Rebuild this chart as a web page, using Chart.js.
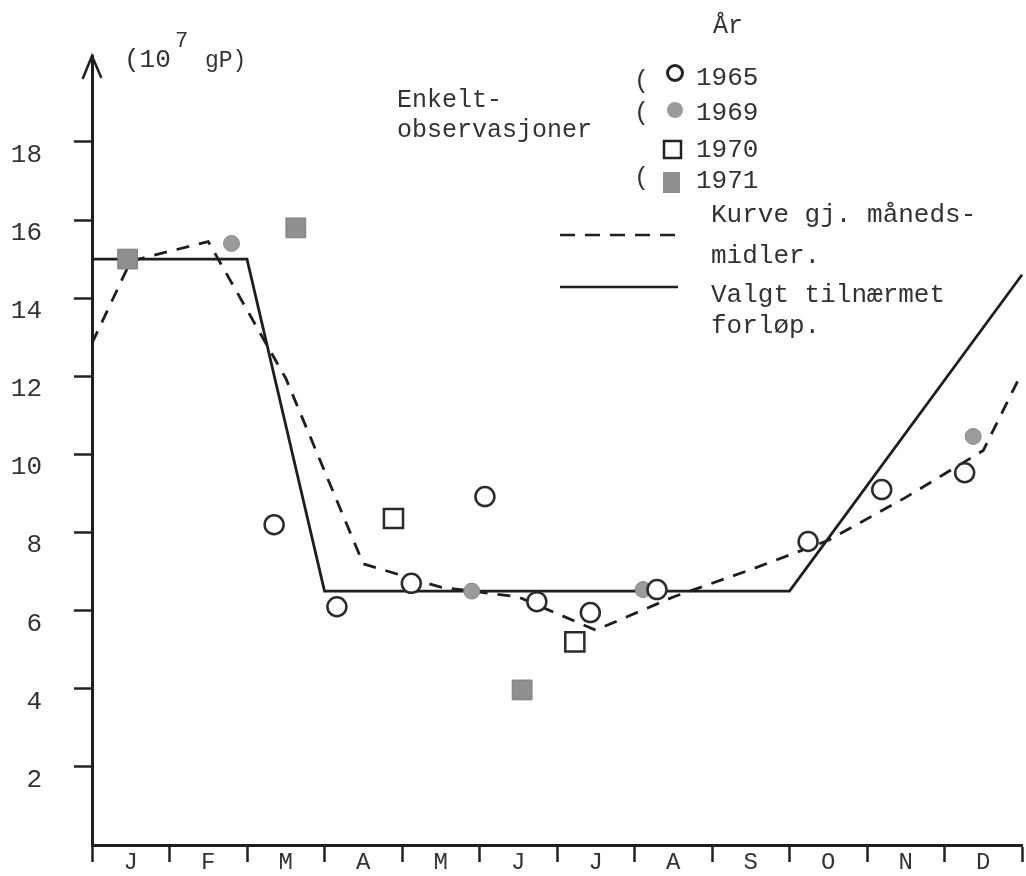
<!DOCTYPE html>
<html>
<head>
<meta charset="utf-8">
<script src="https://cdn.jsdelivr.net/npm/chart.js@4.4.1/dist/chart.umd.min.js"></script>
<style>
html,body{margin:0;padding:0;background:#fff;overflow:hidden;}
#wrap{width:1026px;height:876px;position:relative;}
canvas{display:block;}
</style>
</head>
<body>
<div id="wrap"><canvas id="c" width="1026" height="876" style="width:1026px;height:876px"></canvas></div>
<script>
// ---- data ----
const months = ['J','F','M','A','M','J','J','A','S','O','N','D'];
const yTickValues = [2,4,6,8,10,12,14,16,18];

// single observations, x = position in months (0 = 1 Jan, 12 = 31 Dec)
const x1965 = [2.35, 3.16, 4.12, 5.07, 5.74, 6.43, 7.29, 9.24, 10.19, 11.26];
const y1965 = [8.2, 6.1, 6.7, 8.92, 6.23, 5.95, 6.54, 7.77, 9.1, 9.53];
const x1969 = [1.8, 4.9, 7.11, 11.37];
const y1969 = [15.4, 6.5, 6.54, 10.46];
const x1970 = [3.89, 6.23];
const y1970 = [8.36, 5.2];
const x1971 = [0.46, 2.63, 5.55];
const y1971 = [15.0, 15.8, 3.97];

// curve through monthly means (dashed)
const meanX = [0, 0.5, 1.5, 2.5, 3.5, 4.5, 5.5, 6.5, 7.5, 8.5, 9.5, 10.5, 11.5, 12];
const meanY = [12.85, 14.95, 15.45, 11.95, 7.2, 6.6, 6.35, 5.5, 6.35, 7.05, 7.8, 8.9, 10.1, 12.1];

// chosen approximate course (solid)
const fitX = [0, 2, 3, 9, 12];
const fitY = [15, 15, 6.5, 6.5, 14.6];

const yearLabels = ['1965','1969','1970','1971'];

// ---- helpers ----
const FONT = "'Liberation Mono','DejaVu Sans Mono',monospace";
const INK = '#1e1e1e';
const TXT = '#333';
const pts = (xs, ys) => xs.map((x, i) => ({x: x, y: ys[i]}));
const noPad = s => { s.paddingTop = 0; s.paddingBottom = 0; s.paddingLeft = 0; s.paddingRight = 0; };

const decor = {
  id: 'decor',
  afterDraw(chart) {
    const ctx = chart.ctx;
    const a = chart.chartArea;
    ctx.save();
    // arrow head on y axis
    ctx.strokeStyle = INK; ctx.lineWidth = 2.5; ctx.lineCap = 'round';
    ctx.beginPath();
    ctx.moveTo(a.left - 9, a.top + 22); ctx.lineTo(a.left, a.top); ctx.lineTo(a.left + 9, a.top + 21);
    ctx.stroke();

    ctx.fillStyle = TXT;
    ctx.textBaseline = 'alphabetic';
    ctx.textAlign = 'left';
    // unit label
    ctx.font = '26px ' + FONT; ctx.fillText('(10', 124, 67);
    ctx.font = '22px ' + FONT; ctx.fillText('7', 175, 47);
    ctx.font = '23px ' + FONT; ctx.fillText('gP)', 205, 67);

    ctx.font = '25px ' + FONT;
    ctx.fillText('Enkelt-', 397, 107);
    ctx.fillText('observasjoner', 397, 137);
    ctx.fillText('År', 713, 33);
    ctx.fillText('(', 634, 88);
    ctx.fillText('(', 634, 120);
    ctx.fillText('(', 634, 185);
    ctx.font = '26px ' + FONT;
    ctx.fillText(yearLabels[0], 696, 85);
    ctx.fillText(yearLabels[1], 696, 120);
    ctx.fillText(yearLabels[2], 696, 157);
    ctx.fillText(yearLabels[3], 696, 188);
    ctx.fillText('Kurve gj. måneds-', 711, 222);
    ctx.fillText('midler.', 711, 263);
    ctx.fillText('Valgt tilnærmet', 711, 302);
    ctx.fillText('forløp.', 711, 333);

    // legend markers
    ctx.lineWidth = 3; ctx.strokeStyle = '#222';
    ctx.beginPath(); ctx.arc(675, 73, 7.5, 0, Math.PI * 2); ctx.stroke();
    ctx.fillStyle = '#9a9a9a';
    ctx.beginPath(); ctx.arc(675, 110, 8, 0, Math.PI * 2); ctx.fill();
    ctx.lineWidth = 2.5;
    ctx.strokeRect(664, 141, 17, 17);
    ctx.fillStyle = '#8e8e8e';
    ctx.fillRect(663, 172, 17, 21);

    // legend line samples
    ctx.strokeStyle = INK; ctx.lineWidth = 2.6; ctx.lineCap = 'butt';
    ctx.setLineDash([15, 10]);
    ctx.beginPath(); ctx.moveTo(560, 235); ctx.lineTo(678, 235); ctx.stroke();
    ctx.setLineDash([]);
    ctx.beginPath(); ctx.moveTo(560, 287); ctx.lineTo(678, 287); ctx.stroke();
    ctx.restore();
  }
};

new Chart(document.getElementById('c'), {
  type: 'scatter',
  data: {
    datasets: [
      {label: yearLabels[0], data: pts(x1965, y1965), pointStyle: 'circle', pointRadius: 9.5,
       backgroundColor: '#ffffff', borderColor: '#2b2b2b', borderWidth: 2.5},
      {label: yearLabels[1], data: pts(x1969, y1969), pointStyle: 'circle', pointRadius: 8,
       backgroundColor: '#9b9b9b', borderColor: '#8a8a8a', borderWidth: 1},
      {label: yearLabels[2], data: pts(x1970, y1970), pointStyle: 'rect', pointRadius: 13.5,
       backgroundColor: '#ffffff', borderColor: '#2b2b2b', borderWidth: 2.5},
      {label: yearLabels[3], data: pts(x1971, y1971), pointStyle: 'rect', pointRadius: 14,
       backgroundColor: '#8f8f8f', borderColor: '#7d7d7d', borderWidth: 1},
      {label: 'Kurve gj. månedsmidler', data: pts(meanX, meanY), showLine: true, pointRadius: 0,
       borderColor: INK, borderWidth: 2.8, borderDash: [13, 10], tension: 0, clip: false},
      {label: 'Valgt tilnærmet forløp', data: pts(fitX, fitY), showLine: true, pointRadius: 0,
       borderColor: INK, borderWidth: 2.8, tension: 0, clip: false}
    ]
  },
  options: {
    responsive: false,
    devicePixelRatio: 1,
    animation: false,
    events: [],
    layout: {autoPadding: false, padding: {top: 56, right: 4, left: 0, bottom: 0}},
    plugins: {legend: {display: false}, tooltip: {enabled: false}},
    scales: {
      x: {
        type: 'linear', min: 0, max: 12,
        afterBuildTicks: s => { s.ticks = months.map((m, i) => ({value: i})).concat([{value: 12}]); },
        afterFit: s => { s.height = 31; noPad(s); },
        grid: {drawOnChartArea: false, drawTicks: true, tickLength: 17, tickWidth: 2.5, tickColor: '#222'},
        border: {display: true, color: INK, width: 3},
        ticks: {
          autoSkip: false, maxRotation: 0, padding: -14, labelOffset: 38.75,
          color: TXT, font: {family: FONT, size: 24},
          callback: v => months[Math.round(v)] || ''
        }
      },
      y: {
        type: 'linear', min: 0, max: 20.2,
        afterBuildTicks: s => { s.ticks = yTickValues.map(v => ({value: v})); },
        afterFit: s => { s.width = 92; noPad(s); },
        grid: {drawOnChartArea: false, drawTicks: true, tickLength: 18, tickWidth: 2.5, tickColor: '#222'},
        border: {display: true, color: INK, width: 3},
        ticks: {
          autoSkip: false, padding: 32, labelOffset: 13,
          color: TXT, font: {family: FONT, size: 26},
          callback: v => String(v)
        }
      }
    }
  },
  plugins: [decor]
});
</script>
</body>
</html>
